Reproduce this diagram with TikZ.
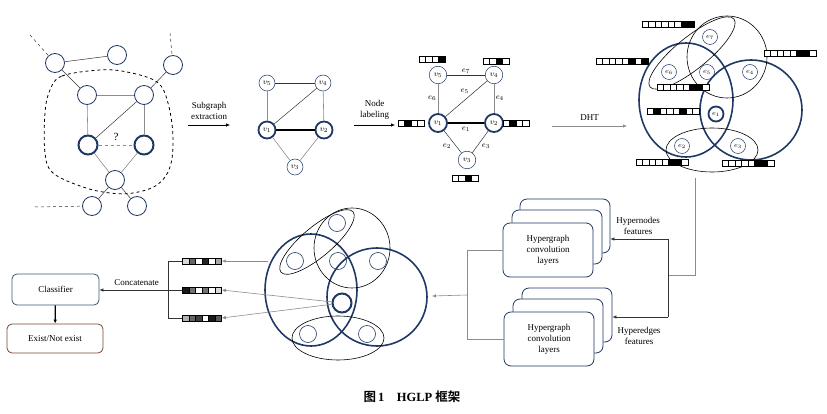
\documentclass[tikz,border=0pt]{standalone}
\usepackage{fontspec}
\setmainfont{Liberation Serif}
\newfontfamily\cjk{Noto Sans CJK SC}[BoldFont=* Bold]
\usetikzlibrary{calc,arrows.meta}

\definecolor{navy}{RGB}{31,56,100}
\definecolor{clsblue}{RGB}{60,85,120}
\definecolor{exbrown}{RGB}{115,72,48}

% feature vector: name, centre, number of cells, cell colours
\newcommand{\featbar}[4]{%
  \node[inner sep=0pt, minimum width=#3*6.5pt, minimum height=6pt] (#1) at (#2) {};
  \foreach \col [count=\k] in {#4}
    \filldraw[fill=\col, draw=black, line width=0.6pt]
      ($(#1.west)+({(\k-1)*6.5},-3)$) rectangle ++(6.5,6);
}

\begin{document}
\begin{tikzpicture}[x=1pt, y=-1pt, font=\fontsize{9}{11}\selectfont,
    >={Latex[length=4pt,width=3.5pt]},
    gnode/.style={circle, draw=navy, line width=0.8pt, minimum size=19pt, inner sep=0pt},
    keynode/.style={gnode, line width=2pt},
    vnode/.style={circle, draw=navy, line width=0.5pt, minimum size=16pt, inner sep=0pt, font=\fontsize{8}{9}\selectfont},
    vkey/.style={vnode, line width=1.8pt, minimum size=17pt},
    wnode/.style={vnode, minimum size=17.5pt},
    wkey/.style={vkey, minimum size=18pt},
    enode/.style={circle, draw=navy, line width=0.5pt, minimum size=15pt, inner sep=0pt, font=\fontsize{7}{8}\selectfont},
    ekey/.style={enode, line width=1.8pt},
    unode/.style={circle, draw=navy, line width=0.6pt, minimum size=17pt, inner sep=0pt},
    ukey/.style={unode, line width=2pt, minimum size=19pt},
    link/.style={draw=black!80, line width=0.5pt},
    glink/.style={draw=black!45, line width=0.6pt},
    hyper/.style={draw=navy, line width=1.6pt},
    hedge/.style={draw=black, line width=0.6pt},
    elabel/.style={font=\fontsize{8}{9}\selectfont, inner sep=1.5pt},
    convbox/.style={draw=navy, fill=white, rounded corners=7pt, line width=0.8pt,
      minimum width=90pt, minimum height=54pt, align=center},
    roundbox/.style={rounded corners=5pt, line width=0.8pt, align=center}]
\useasboundingbox (0,0) rectangle (827,414);

% original graph
\node[gnode] (a) at (55,63) {};
\node[gnode] (b) at (117,55) {};
\node[gnode] (c) at (173,65) {};
\node[gnode] (d) at (87,95) {};
\node[gnode] (e) at (144,95) {};
\node[keynode] (f) at (88,145) {};
\node[keynode] (g) at (144,145) {};
\node[gnode] (h) at (115,180) {};
\node[gnode] (i) at (92,206) {};
\node[gnode] (j) at (137,206) {};
\coordinate (a0) at (30,35);
\coordinate (c0) at (170,33);
\coordinate (i0) at (35,207);
\draw[link, dashed] (a0) -- (a);
\draw[link, dashed] (c0) -- (c);
\draw[link, dashed] (i0) -- (i);
\draw[link] (a) -- (b);
\draw[link] (a) -- (d);
\draw[link] (c) -- (e);
\draw[glink] (d) -- (e);
\draw[glink] (d) -- (f);
\draw[link] (e) -- (f);
\draw[glink] (e) -- (g);
\draw[glink] (f) -- (h);
\draw[glink] (g) -- (h);
\draw[link] (h) -- (i);
\draw[link] (h) -- (j);
\draw[glink, dashed] (f) -- node[above=1pt, font=\fontsize{11}{12}\selectfont] {?} (g);
\draw[dashed, line width=0.8pt] plot[smooth cycle, tension=0.6] coordinates {
  (50,90) (62,76) (100,70) (127,72) (157,82) (168,103) (173,137) (170,167)
  (157,185) (133,193) (110,193) (83,187) (53,173) (45,153) (45,113)};

% subgraph extraction
\coordinate (s1) at (188,125);
\coordinate (s2) at (230,125);
\draw[->, line width=0.6pt] (s1) -- node[above=2pt, align=center] {Subgraph\\extraction} (s2);

\node[vnode] (v5) at (267,83) {$v_5$};
\node[vnode] (v4) at (323,83) {$v_4$};
\node[vkey] (v1) at (267,130) {$v_1$};
\node[vkey] (v2) at (324,130) {$v_2$};
\node[vnode] (v3) at (295,167) {$v_3$};
\draw[link] (v5) -- (v4);
\draw[glink] (v5) -- (v1);
\draw[link] (v4) -- (v1);
\draw[glink] (v4) -- (v2);
\draw[line width=1.5pt] (v1) -- (v2);
\draw[glink] (v1) -- (v3);
\draw[glink] (v2) -- (v3);

% node labeling
\coordinate (n1) at (354,125);
\coordinate (n2) at (395,125);
\draw[->, line width=0.6pt] (n1) -- node[above=2pt, align=center] {Node\\labeling} (n2);

\node[wnode] (w5) at (438,75) {$v_5$};
\node[wnode] (w4) at (494,75) {$v_4$};
\node[wkey] (w1) at (438,123) {$v_1$};
\node[wkey] (w2) at (494,123) {$v_2$};
\node[wnode] (w3) at (467,160) {$v_3$};
\draw[link] (w5) -- node[elabel, above] {$e_7$} (w4);
\draw[glink] (w5) -- node[elabel, left] {$e_6$} (w1);
\draw[link] (w1) -- node[elabel, above left, pos=0.6] {$e_5$} (w4);
\draw[glink] (w4) -- node[elabel, right] {$e_4$} (w2);
\draw[line width=1.5pt] (w1) -- node[elabel, below=2pt] {$e_1$} (w2);
\draw[link] (w1) -- node[elabel, below left] {$e_2$} (w3);
\draw[link] (w2) -- node[elabel, below right] {$e_3$} (w3);
\featbar{b5}{432,59}{4}{white,white,white,black}
\featbar{b4}{496,61}{4}{white,white,black,white}
\featbar{b1}{411,123}{4}{white,black,white,white}
\featbar{b2}{516,123}{4}{white,black,white,white}
\featbar{b3}{465,178}{4}{white,white,black,white}

% DHT
\coordinate (d1) at (552,126);
\coordinate (d2) at (627,126);
\draw[->, glink] (d1) -- node[above=2pt, black] {DHT} (d2);

\draw[hyper] (686,100) ellipse [x radius=47, y radius=57];
\draw[hyper] (751,110) ellipse [x radius=51, y radius=50];
\draw[hedge] (727,57) ellipse [x radius=40, y radius=41];
\draw[hedge, rotate around={39:(692,53)}] (692,53) ellipse [x radius=54, y radius=16];
\draw[hedge] (712,150) ellipse [x radius=46, y radius=22];
\node[enode] (e7) at (710,37) {$e_7$};
\node[enode] (e6) at (669,72) {$e_6$};
\node[enode] (e5) at (707,72) {$e_5$};
\node[enode] (e4) at (750,72) {$e_4$};
\node[ekey] (e1) at (716,114) {$e_1$};
\node[enode] (e2) at (682,146) {$e_2$};
\node[enode] (e3) at (738,146) {$e_3$};
\featbar{h7}{668,24}{8}{white,white,white,white,white,white,black,black}
\featbar{h6}{622,61}{8}{white,white,white,white,white,black,white,black}
\featbar{h4}{790,53}{8}{white,white,white,white,white,black,black,white}
\featbar{h5}{683,87}{8}{white,white,white,white,white,black,black,white}
\featbar{h1}{673,111}{8}{white,black,white,white,white,black,white,white}
\featbar{h2}{662,162}{8}{white,white,white,white,white,black,black,white}
\featbar{h3}{748,163}{8}{white,white,white,white,white,black,black,white}

% hypergraph convolution
\node[convbox] (cb1) at (565,226) {};
\node[convbox] (cm1) at (557,237) {};
\node[convbox] (cf1) at (548,250) {Hypergraph\\convolution\\layers};
\node[convbox] (cb2) at (567,315) {};
\node[convbox] (cm2) at (558,326) {};
\node[convbox] (cf2) at (549,339) {Hypergraph\\convolution\\layers};
\node[align=center] (hn) at (638,226) {Hypernodes\\features};
\node[align=center] (he) at (639,336) {Hyperedges\\features};

\coordinate (t0) at (695,178);
\coordinate (t1) at (695,275);
\coordinate (t2) at (668,275);
\coordinate (t3) at (668,239);
\coordinate (t4) at (668,317);
\draw[glink] (t0) -- (t1) -- (t2);
\draw[link, line width=0.6pt] (t3) -- (t4);
\draw[->, link, line width=0.6pt] (t3) -- (t3 -| cb1.east);
\draw[->, link, line width=0.6pt] (t4) -- (t4 -| cb2.east);

\coordinate (lj) at (467,295);
\coordinate (hr) at (432,296);
\draw[glink] (cf1.west) -| (lj);
\draw[glink] (cf2.west) -| (lj);
\draw[->, glink] (lj) -- (hr);

% learned hypergraph
\draw[hyper] (311,290) ellipse [x radius=46, y radius=56];
\draw[hyper] (377,297) ellipse [x radius=50, y radius=49];
\draw[hedge] (352,248) ellipse [x radius=38, y radius=40];
\draw[hedge, rotate around={40:(317,242)}] (317,242) ellipse [x radius=47, y radius=15];
\draw[hedge] (338,338) ellipse [x radius=46, y radius=22];
\node[unode] (u1) at (337,223) {};
\node[unode] (u2) at (295,261) {};
\node[unode] (u3) at (338,261) {};
\node[unode] (u4) at (378,261) {};
\node[ukey] (u5) at (342,303) {};
\node[unode] (u6) at (308,334) {};
\node[unode] (u7) at (367,334) {};

\featbar{q1}{202,261}{6}{black!15,black!60,white,black!85,white,black!35}
\featbar{q2}{202,290}{6}{black!90,black!55,white,black!55,white,black!15}
\featbar{q3}{202,318}{6}{black!30,black!60,black!75,white,black!90,black!65}
\coordinate (hl) at (268,261);
\draw[->, glink] (hl) -- (q1.east);
\draw[->, glink] (u5) -- (q2.east);
\draw[->, glink] (u5) -- (q3.east);

% classifier
\node[roundbox, draw=clsblue, minimum width=87pt, minimum height=31pt] (cls) at (55.5,289.5) {Classifier};
\node[roundbox, draw=exbrown, minimum width=96pt, minimum height=29pt] (ex) at (55,338.5) {Exist/Not exist};
\coordinate (bj) at (168,290);
\draw[link, line width=0.6pt] (q1.west) -| (bj);
\draw[link, line width=0.6pt] (q3.west) -| (bj);
\draw[->, link, line width=0.6pt] (q2.west) -- node[above=1pt, pos=0.55] {Concatenate} (cls.east |- q2.west);
\draw[->, line width=1.2pt] (cls) -- (ex);

\node (cap) at (412,397) {\fontsize{12.5}{14}\selectfont{\cjk\bfseries 图}\,\textbf{1\quad HGLP} {\cjk\bfseries 框架}};
\end{tikzpicture}
\end{document}
